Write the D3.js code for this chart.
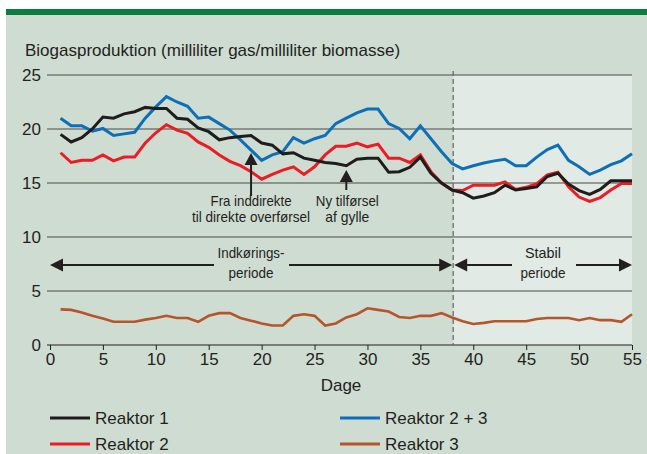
<!DOCTYPE html>
<html>
<head>
<meta charset="utf-8">
<script src="https://cdn.jsdelivr.net/npm/d3@7"></script>
<style>
  html, body { margin: 0; padding: 0; background: #ffffff; }
  svg { display: block; }
  text { font-family: "Liberation Sans", Arial, sans-serif; fill: #231f20; }
</style>
</head>
<body>
<svg id="chart" width="647" height="454"></svg>
<script>
// Days of the trial
const days = d3.range(1, 56);

// Biogas production, ml gas per ml biomass
const reaktor1 = [19.5, 18.8, 19.2, 20.0, 21.1, 21.0, 21.4, 21.6, 22.0, 21.9,
  21.9, 21.0, 20.9, 20.1, 19.75, 19.0, 19.2, 19.3, 19.4, 18.7,
  18.5, 17.7, 17.8, 17.3, 17.1, 16.9, 16.8, 16.6, 17.2, 17.3,
  17.3, 16.0, 16.05, 16.45, 17.4, 15.9, 15.0, 14.35, 14.1, 13.6,
  13.8, 14.1, 14.8, 14.35, 14.5, 14.65, 15.6, 15.9, 14.9, 14.3,
  13.95, 14.4, 15.2, 15.2, 15.2];
const reaktor23 = [21.0, 20.3, 20.3, 19.8, 20.05, 19.4, 19.55, 19.7, 21.0, 22.05,
  23.0, 22.5, 22.1, 21.0, 21.1, 20.5, 19.9, 19.0, 18.05, 17.1,
  17.6, 17.9, 19.2, 18.7, 19.1, 19.4, 20.5, 21.0, 21.5, 21.85,
  21.85, 20.5, 20.05, 19.1, 20.3, 19.1, 17.9, 16.8, 16.3, 16.6,
  16.85, 17.05, 17.2, 16.6, 16.6, 17.4, 18.1, 18.5, 17.1, 16.5,
  15.8, 16.2, 16.7, 17.05, 17.7];
const reaktor2 = [17.8, 16.9, 17.1, 17.1, 17.6, 17.05, 17.4, 17.4, 18.7, 19.65,
  20.4, 19.9, 19.6, 18.8, 18.3, 17.6, 17.0, 16.6, 16.05, 15.35,
  15.8, 16.2, 16.5, 15.8, 16.5, 17.6, 18.4, 18.4, 18.7, 18.35,
  18.6, 17.3, 17.3, 16.9, 17.6, 16.05, 15.0, 14.35, 14.3, 14.8,
  14.8, 14.8, 15.1, 14.4, 14.6, 14.95, 15.75, 16.0, 14.65, 13.7,
  13.3, 13.65, 14.35, 14.95, 14.95];
const reaktor3 = [3.3, 3.25, 3.0, 2.7, 2.45, 2.15, 2.15, 2.15, 2.35, 2.5,
  2.7, 2.5, 2.5, 2.15, 2.7, 2.95, 2.95, 2.5, 2.25, 2.0,
  1.8, 1.8, 2.7, 2.85, 2.7, 1.8, 2.0, 2.55, 2.85, 3.4,
  3.25, 3.1, 2.6, 2.5, 2.7, 2.7, 2.95, 2.55, 2.2, 1.95,
  2.05, 2.2, 2.2, 2.2, 2.2, 2.4, 2.5, 2.5, 2.5, 2.3,
  2.5, 2.3, 2.3, 2.15, 2.85];

const yTicks = [0, 5, 10, 15, 20, 25];
const xTicks = [0, 5, 10, 15, 20, 25, 30, 35, 40, 45, 50, 55];
const stableStart = 38.1;

const seriesNames = ["Reaktor 1", "Reaktor 2", "Reaktor 2 + 3", "Reaktor 3"];
const seriesColors = ["#1f1d1c", "#ec1c24", "#0e6fb9", "#b5552b"];
const seriesValues = [reaktor1, reaktor2, reaktor23, reaktor3];

const svg = d3.select("#chart");

// Panel background with green rule on top
svg.append("rect").attr("x", 6).attr("y", 15).attr("width", 641).attr("height", 439).attr("fill", "#cfdcd2");
svg.append("rect").attr("x", 6).attr("y", 9).attr("width", 641).attr("height", 6).attr("fill", "#0b7e3e");

const x = d3.scaleLinear().domain([0, 55]).range([50, 632]);
const y = d3.scaleLinear().domain([0, 25]).range([345, 75]);

// Stable period shading
svg.append("rect")
  .attr("x", x(stableStart)).attr("y", y(25))
  .attr("width", x(55) - x(stableStart)).attr("height", y(0) - y(25))
  .attr("fill", "#e1eae4");

// Title
svg.append("text").attr("x", 25).attr("y", 56)
  .attr("font-size", 17).text("Biogasproduktion (milliliter gas/milliliter biomasse)");

// Horizontal grid lines
svg.append("g").selectAll("line").data(yTicks.filter(d => d > 0)).join("line")
  .attr("x1", 47).attr("x2", x(55))
  .attr("y1", d => y(d)).attr("y2", d => y(d))
  .attr("stroke", "#4a4a4a").attr("stroke-width", 1);

// Y axis labels
const yAxis = d3.axisLeft(y).tickValues(yTicks).tickSize(0).tickPadding(8);
const gy = svg.append("g").attr("transform", `translate(${x(0) - 1},0)`).call(yAxis);
gy.select(".domain").remove();
gy.selectAll("text").attr("font-size", 17).attr("font-family", null).attr("fill", "#231f20");

// X axis
const xAxis = d3.axisBottom(x).tickValues(xTicks).tickSize(5).tickPadding(3);
const gx = svg.append("g").attr("transform", `translate(0,${y(0)})`).call(xAxis);
gx.select(".domain").attr("stroke", "#231f20").attr("d", `M${x(0) - 3},0H${x(55)}`);
gx.selectAll(".tick line").attr("stroke", "#231f20");
gx.selectAll("text").attr("font-size", 17).attr("font-family", null).attr("fill", "#231f20");

svg.append("text").attr("x", x(27.5)).attr("y", 391).attr("text-anchor", "middle")
  .attr("font-size", 17).text("Dage");

// Dashed boundary between periods
svg.append("line")
  .attr("x1", x(stableStart)).attr("x2", x(stableStart))
  .attr("y1", y(25) - 4).attr("y2", y(0))
  .attr("stroke", "#6a6a6a").attr("stroke-width", 1.3).attr("stroke-dasharray", "5,3");

// Data lines
const line = d3.line().x((d, i) => x(days[i])).y(d => y(d));
const order = [3, 2, 1, 0];
order.forEach(k => {
  svg.append("path").datum(seriesValues[k])
    .attr("d", line).attr("fill", "none")
    .attr("stroke", seriesColors[k]).attr("stroke-width", k === 3 ? 2.6 : 3)
    .attr("stroke-linejoin", "miter").attr("stroke-miterlimit", 3);
});

// Annotation arrows pointing up to the curves
function upArrow(cx, tipY, baseY) {
  svg.append("line").attr("x1", cx).attr("x2", cx).attr("y1", tipY + 8).attr("y2", baseY)
    .attr("stroke", "#231f20").attr("stroke-width", 2);
  svg.append("path").attr("d", `M${cx},${tipY}L${cx - 6.5},${tipY + 12}L${cx + 6.5},${tipY + 12}Z`)
    .attr("fill", "#231f20");
}
upArrow(x(19), 153, 196);
upArrow(x(28), 170, 190);

// Multi-line centred labels; widths keep the narrow look of the lettering
function label(lines, widths, cx, y0, dy) {
  lines.forEach((s, i) => {
    svg.append("text").attr("text-anchor", "middle").attr("font-size", 15)
      .attr("x", cx).attr("y", y0 + i * dy)
      .attr("textLength", widths[i]).attr("lengthAdjust", "spacingAndGlyphs")
      .text(s);
  });
}
label(["Fra inddirekte", "til direkte overførsel"], [81, 118], x(19), 206, 16);
label(["Ny tilførsel", "af gylle"], [63, 44], x(28.1), 206, 16);

// Period arrows
function periodArrow(x1, x2, gap1, gap2, yy) {
  const g = svg.append("g");
  g.append("line").attr("x1", x1 + 8).attr("x2", gap1).attr("y1", yy).attr("y2", yy)
    .attr("stroke", "#231f20").attr("stroke-width", 2);
  g.append("line").attr("x1", gap2).attr("x2", x2 - 8).attr("y1", yy).attr("y2", yy)
    .attr("stroke", "#231f20").attr("stroke-width", 2);
  g.append("path").attr("d", `M${x1},${yy}L${x1 + 13},${yy - 6.5}L${x1 + 13},${yy + 6.5}Z`).attr("fill", "#231f20");
  g.append("path").attr("d", `M${x2},${yy}L${x2 - 13},${yy - 6.5}L${x2 - 13},${yy + 6.5}Z`).attr("fill", "#231f20");
}
periodArrow(x(0), x(stableStart) - 1, 214, 289, 265);
periodArrow(x(stableStart) + 1, x(55), 512, 576, 265);
label(["Indkørings-", "periode"], [67, 45], 251, 258, 20);
label(["Stabil", "periode"], [36, 45], 543, 258, 20);

// Legend
const legendPos = [[50, 418], [50, 444], [340, 418], [340, 444]];
seriesNames.forEach((name, k) => {
  const [lx, ly] = legendPos[k];
  svg.append("line").attr("x1", lx).attr("x2", lx + 40).attr("y1", ly).attr("y2", ly)
    .attr("stroke", seriesColors[k]).attr("stroke-width", 3);
  svg.append("text").attr("x", lx + 45).attr("y", ly + 6).attr("font-size", 17).text(name);
});
</script>
</body>
</html>
